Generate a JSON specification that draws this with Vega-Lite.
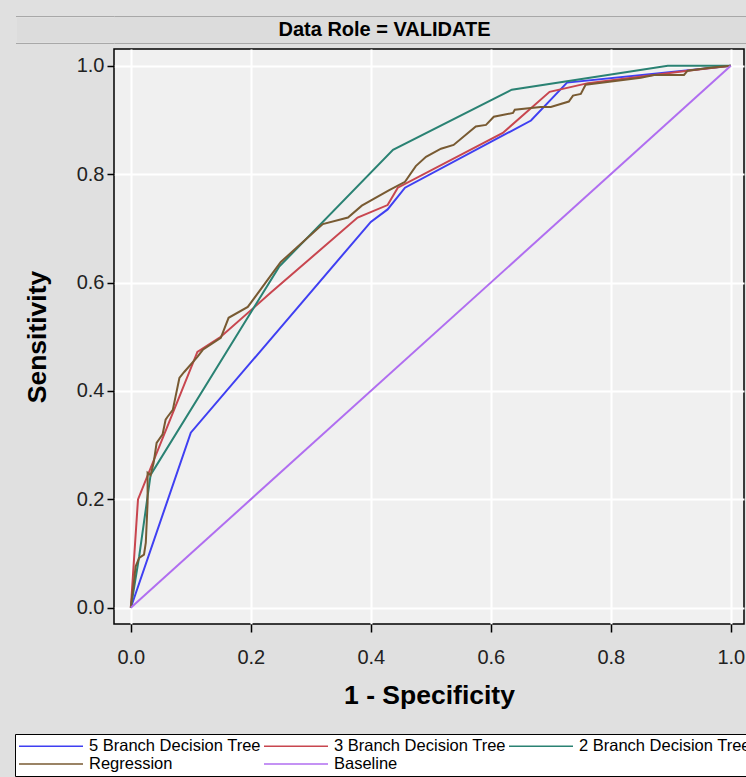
{
  "$schema": "https://vega.github.io/schema/vega-lite/v6.json",
  "background": "#e0e0e0",
  "padding": {"left": 14, "top": 15, "right": 0, "bottom": 0},
  "columns": 1,
  "align": "none",
  "spacing": 4,
  "config": {
    "font": "Liberation Sans",
    "view": {"stroke": null}
  },
  "concat": [
    {
      "width": 633,
      "height": 27,
      "view": {"fill": "#dcdcdc", "stroke": null},
      "data": {"values": [{"t": "Data Role = VALIDATE"}]},
      "mark": {"type": "text", "font": "Liberation Sans", "fontWeight": "bold", "fontSize": 20, "color": "#000000", "dx": -46},
      "encoding": {
        "text": {"field": "t", "type": "nominal"},
        "y": {
          "datum": 0,
          "type": "quantitative",
          "scale": {"domain": [-1, 1], "nice": false, "zero": false},
          "axis": {
            "title": null,
            "values": [-1, -0.8, -0.6, -0.4, -0.2, 0, 0.2, 0.4, 0.6, 0.8, 1],
            "labels": false,
            "domain": false,
            "grid": true,
            "gridColor": {"condition": {"test": "abs(datum.value) < 0.99", "value": "transparent"}, "value": "#a8a8a8"},
            "gridWidth": 1,
            "tickCap": "butt",
            "tickSize": {"condition": {"test": "abs(datum.value) < 0.99", "value": 97.4}, "value": 98.5},
            "tickColor": {"condition": {"test": "abs(datum.value) < 0.99", "value": "#dcdcdc"}, "value": "#a8a8a8"},
            "tickWidth": {"condition": {"test": "abs(datum.value) < 0.99", "value": 3.2}, "value": 1}
          }
        }
      }
    },
    {
      "width": 630,
      "height": 575,
      "view": {"fill": "#f0f0f0", "stroke": "#000000", "strokeWidth": 1.5},
      "data": {
        "values": [
          {"model": "5 Branch Decision Tree", "i": 0, "fpr": 0, "tpr": 0},
          {"model": "5 Branch Decision Tree", "i": 1, "fpr": 0.1, "tpr": 0.323},
          {"model": "5 Branch Decision Tree", "i": 2, "fpr": 0.4, "tpr": 0.712},
          {"model": "5 Branch Decision Tree", "i": 3, "fpr": 0.428, "tpr": 0.735},
          {"model": "5 Branch Decision Tree", "i": 4, "fpr": 0.457, "tpr": 0.775},
          {"model": "5 Branch Decision Tree", "i": 5, "fpr": 0.667, "tpr": 0.899},
          {"model": "5 Branch Decision Tree", "i": 6, "fpr": 0.727, "tpr": 0.969},
          {"model": "5 Branch Decision Tree", "i": 7, "fpr": 0.95, "tpr": 0.994},
          {"model": "5 Branch Decision Tree", "i": 8, "fpr": 1, "tpr": 1},

          {"model": "3 Branch Decision Tree", "i": 0, "fpr": 0, "tpr": 0},
          {"model": "3 Branch Decision Tree", "i": 1, "fpr": 0.012, "tpr": 0.2},
          {"model": "3 Branch Decision Tree", "i": 2, "fpr": 0.111, "tpr": 0.472},
          {"model": "3 Branch Decision Tree", "i": 3, "fpr": 0.15, "tpr": 0.5},
          {"model": "3 Branch Decision Tree", "i": 4, "fpr": 0.233, "tpr": 0.581},
          {"model": "3 Branch Decision Tree", "i": 5, "fpr": 0.378, "tpr": 0.72},
          {"model": "3 Branch Decision Tree", "i": 6, "fpr": 0.428, "tpr": 0.743},
          {"model": "3 Branch Decision Tree", "i": 7, "fpr": 0.445, "tpr": 0.775},
          {"model": "3 Branch Decision Tree", "i": 8, "fpr": 0.62, "tpr": 0.876},
          {"model": "3 Branch Decision Tree", "i": 9, "fpr": 0.698, "tpr": 0.952},
          {"model": "3 Branch Decision Tree", "i": 10, "fpr": 0.762, "tpr": 0.968},
          {"model": "3 Branch Decision Tree", "i": 11, "fpr": 0.928, "tpr": 0.991},
          {"model": "3 Branch Decision Tree", "i": 12, "fpr": 1, "tpr": 1},

          {"model": "2 Branch Decision Tree", "i": 0, "fpr": 0, "tpr": 0},
          {"model": "2 Branch Decision Tree", "i": 1, "fpr": 0.014, "tpr": 0.095},
          {"model": "2 Branch Decision Tree", "i": 2, "fpr": 0.033, "tpr": 0.245},
          {"model": "2 Branch Decision Tree", "i": 3, "fpr": 0.247, "tpr": 0.629},
          {"model": "2 Branch Decision Tree", "i": 4, "fpr": 0.437, "tpr": 0.845},
          {"model": "2 Branch Decision Tree", "i": 5, "fpr": 0.635, "tpr": 0.956},
          {"model": "2 Branch Decision Tree", "i": 6, "fpr": 0.895, "tpr": 1},
          {"model": "2 Branch Decision Tree", "i": 7, "fpr": 1, "tpr": 1},

          {"model": "Regression", "i": 0, "fpr": 0, "tpr": 0},
          {"model": "Regression", "i": 1, "fpr": 0.005, "tpr": 0.046},
          {"model": "Regression", "i": 2, "fpr": 0.008, "tpr": 0.076},
          {"model": "Regression", "i": 3, "fpr": 0.014, "tpr": 0.092},
          {"model": "Regression", "i": 4, "fpr": 0.022, "tpr": 0.098},
          {"model": "Regression", "i": 5, "fpr": 0.025, "tpr": 0.12},
          {"model": "Regression", "i": 6, "fpr": 0.028, "tpr": 0.194},
          {"model": "Regression", "i": 7, "fpr": 0.028, "tpr": 0.249},
          {"model": "Regression", "i": 8, "fpr": 0.033, "tpr": 0.245},
          {"model": "Regression", "i": 9, "fpr": 0.038, "tpr": 0.267},
          {"model": "Regression", "i": 10, "fpr": 0.043, "tpr": 0.304},
          {"model": "Regression", "i": 11, "fpr": 0.053, "tpr": 0.32},
          {"model": "Regression", "i": 12, "fpr": 0.058, "tpr": 0.347},
          {"model": "Regression", "i": 13, "fpr": 0.061, "tpr": 0.352},
          {"model": "Regression", "i": 14, "fpr": 0.07, "tpr": 0.365},
          {"model": "Regression", "i": 15, "fpr": 0.081, "tpr": 0.424},
          {"model": "Regression", "i": 16, "fpr": 0.089, "tpr": 0.435},
          {"model": "Regression", "i": 17, "fpr": 0.111, "tpr": 0.463},
          {"model": "Regression", "i": 18, "fpr": 0.12, "tpr": 0.476},
          {"model": "Regression", "i": 19, "fpr": 0.15, "tpr": 0.498},
          {"model": "Regression", "i": 20, "fpr": 0.163, "tpr": 0.535},
          {"model": "Regression", "i": 21, "fpr": 0.195, "tpr": 0.555},
          {"model": "Regression", "i": 22, "fpr": 0.228, "tpr": 0.605},
          {"model": "Regression", "i": 23, "fpr": 0.25, "tpr": 0.638},
          {"model": "Regression", "i": 24, "fpr": 0.278, "tpr": 0.666},
          {"model": "Regression", "i": 25, "fpr": 0.32, "tpr": 0.708},
          {"model": "Regression", "i": 26, "fpr": 0.362, "tpr": 0.72},
          {"model": "Regression", "i": 27, "fpr": 0.385, "tpr": 0.742},
          {"model": "Regression", "i": 28, "fpr": 0.43, "tpr": 0.77},
          {"model": "Regression", "i": 29, "fpr": 0.457, "tpr": 0.786},
          {"model": "Regression", "i": 30, "fpr": 0.475, "tpr": 0.815},
          {"model": "Regression", "i": 31, "fpr": 0.492, "tpr": 0.832},
          {"model": "Regression", "i": 32, "fpr": 0.517, "tpr": 0.847},
          {"model": "Regression", "i": 33, "fpr": 0.538, "tpr": 0.854},
          {"model": "Regression", "i": 34, "fpr": 0.575, "tpr": 0.888},
          {"model": "Regression", "i": 35, "fpr": 0.592, "tpr": 0.891},
          {"model": "Regression", "i": 36, "fpr": 0.605, "tpr": 0.906},
          {"model": "Regression", "i": 37, "fpr": 0.637, "tpr": 0.913},
          {"model": "Regression", "i": 38, "fpr": 0.64, "tpr": 0.919},
          {"model": "Regression", "i": 39, "fpr": 0.683, "tpr": 0.924},
          {"model": "Regression", "i": 40, "fpr": 0.7, "tpr": 0.924},
          {"model": "Regression", "i": 41, "fpr": 0.73, "tpr": 0.934},
          {"model": "Regression", "i": 42, "fpr": 0.737, "tpr": 0.945},
          {"model": "Regression", "i": 43, "fpr": 0.75, "tpr": 0.948},
          {"model": "Regression", "i": 44, "fpr": 0.758, "tpr": 0.965},
          {"model": "Regression", "i": 45, "fpr": 0.85, "tpr": 0.978},
          {"model": "Regression", "i": 46, "fpr": 0.872, "tpr": 0.983},
          {"model": "Regression", "i": 47, "fpr": 0.922, "tpr": 0.983},
          {"model": "Regression", "i": 48, "fpr": 0.928, "tpr": 0.991},
          {"model": "Regression", "i": 49, "fpr": 0.962, "tpr": 0.996},
          {"model": "Regression", "i": 50, "fpr": 1, "tpr": 1},

          {"model": "Baseline", "i": 0, "fpr": 0, "tpr": 0},
          {"model": "Baseline", "i": 1, "fpr": 1, "tpr": 1}
        ]
      },
      "mark": {"type": "line", "strokeWidth": 2},
      "encoding": {
        "x": {
          "field": "fpr",
          "type": "quantitative",
          "scale": {"domain": [-0.028, 1.022], "nice": false, "zero": false},
          "axis": {
            "title": "1 - Specificity",
            "values": [0, 0.2, 0.4, 0.6, 0.8, 1],
            "format": ".1f",
            "domain": false,
            "grid": true,
            "gridColor": "#ffffff",
            "gridWidth": 2,
            "tickColor": "#000000",
            "tickSize": 8,
            "tickWidth": 1.5,
            "labelFont": "Liberation Sans",
            "labelFontSize": 20,
            "labelColor": "#222222",
            "labelPadding": 15,
            "titleFont": "Liberation Sans",
            "titleFontSize": 26.5,
            "titleFontWeight": "bold",
            "titleColor": "#000000",
            "titlePadding": 15
          }
        },
        "y": {
          "field": "tpr",
          "type": "quantitative",
          "scale": {"domain": [-0.03, 1.031], "nice": false, "zero": false},
          "axis": {
            "title": ["", "Sensitivity"],
            "titleLineHeight": 8,
            "values": [0, 0.2, 0.4, 0.6, 0.8, 1],
            "format": ".1f",
            "domain": false,
            "grid": true,
            "gridColor": "#ffffff",
            "gridWidth": 2,
            "tickColor": "#000000",
            "tickSize": 7,
            "tickWidth": 1.5,
            "labelFont": "Liberation Sans",
            "labelFontSize": 20,
            "labelColor": "#222222",
            "labelPadding": 3,
            "titleFont": "Liberation Sans",
            "titleFontSize": 26.5,
            "titleFontWeight": "bold",
            "titleColor": "#000000",
            "titlePadding": 25
          }
        },
        "color": {
          "field": "model",
          "type": "nominal",
          "scale": {
            "domain": ["5 Branch Decision Tree", "3 Branch Decision Tree", "2 Branch Decision Tree", "Regression", "Baseline"],
            "range": ["#3f3ff2", "#c8464f", "#2a8273", "#785a32", "#b06ef0"]
          },
          "legend": {
            "title": null,
            "orient": "none",
            "legendX": -99,
            "legendY": 718,
            "direction": "horizontal",
            "columns": 3,
            "columnPadding": 0,
            "rowPadding": 0,
            "padding": 3,
            "symbolType": "M-1,0H7",
            "symbolSize": 256,
            "symbolStrokeWidth": 1.5,
            "labelFont": "Liberation Sans",
            "labelFontSize": 16.5,
            "labelColor": "#000000",
            "labelOffset": 53,
            "labelLimit": 300,
            "strokeColor": "#000000",
            "fillColor": "#ffffff"
          }
        },
        "order": {"field": "i", "type": "quantitative"}
      }
    }
  ]
}
